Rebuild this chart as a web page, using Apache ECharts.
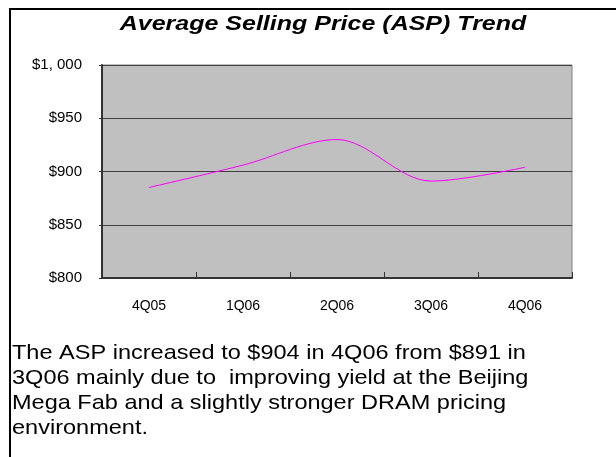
<!DOCTYPE html>
<html>
<head>
<meta charset="utf-8">
<script src="https://cdn.jsdelivr.net/npm/echarts@6/dist/echarts.min.js"></script>
<style>
html,body{margin:0;padding:0;background:#fff;}
#c{width:616px;height:457px;}
</style>
</head>
<body>
<div id="c"></div>
<script>
var categories = ['4Q05', '1Q06', '2Q06', '3Q06', '4Q06'];
var aspValues = [885, 906, 930, 891, 904];
var yTicks = [800, 850, 900, 950, 1000];
var titleText = 'Average Selling Price (ASP) Trend';
var noteLines = [
  'The ASP increased to $904 in 4Q06 from $891 in',
  '3Q06 mainly due to  improving yield at the Beijing',
  'Mega Fab and a slightly stronger DRAM pricing',
  'environment.'
];

var chart = echarts.init(document.getElementById('c'), null, {renderer: 'canvas'});
var option = {
  animation: false,
  backgroundColor: '#ffffff',
  grid: {
    left: 102, top: 65, right: 44, bottom: 179,
    show: true, backgroundColor: '#C0C0C0', borderColor: '#808080', borderWidth: 1
  },
  xAxis: {
    type: 'category',
    data: categories,
    boundaryGap: true,
    axisLine: {lineStyle: {color: '#333333', width: 2}},
    axisTick: {show: true, inside: true, length: 6, alignWithLabel: false, lineStyle: {color: '#333333'}},
    axisLabel: {margin: 21, fontFamily: 'Liberation Sans', fontSize: 14, color: '#000'}
  },
  yAxis: {
    type: 'value',
    min: 800, max: 1000, interval: 50,
    axisLine: {show: true, lineStyle: {color: '#333333', width: 2}},
    axisTick: {show: true, length: 3, lineStyle: {color: '#333333'}},
    splitLine: {lineStyle: {color: '#404040', width: 1}},
    axisLabel: {
      margin: 20, fontFamily: 'Liberation Sans', fontSize: 15, color: '#000',
      padding: [8, 0, 0, 0],
      formatter: function (v) {
        if (yTicks.indexOf(v) < 0) return '';
        return v >= 1000 ? '$' + Math.floor(v / 1000) + ', ' + String(v % 1000).padStart(3, '0') : '$' + v;
      }
    }
  },
  series: [{
    type: 'line',
    data: aspValues,
    smooth: 0.33,
    symbol: 'none',
    lineStyle: {color: '#FF00FF', width: 1}
  }],
  graphic: [
    {type: 'line', shape: {x1: 9, y1: 9, x2: 616, y2: 9}, style: {stroke: '#000', lineWidth: 2}},
    {type: 'line', shape: {x1: 10, y1: 9, x2: 10, y2: 457}, style: {stroke: '#000', lineWidth: 2}},
    {type: 'text', x: 323, y: 24, scaleX: 1.25, style: {
      text: titleText, x: 0, y: 0, align: 'center', verticalAlign: 'middle',
      fontFamily: 'Liberation Sans', fontSize: 20, fontWeight: 'bold', fontStyle: 'italic', fill: '#000'
    }},
    {type: 'text', x: 12, y: 341, scaleX: 1.12, style: {
      text: noteLines.join('\n'), x: 0, y: 0, align: 'left', verticalAlign: 'top',
      fontFamily: 'Liberation Sans', fontSize: 21, lineHeight: 25, fill: '#000'
    }}
  ]
};
chart.setOption(option);
</script>
</body>
</html>
